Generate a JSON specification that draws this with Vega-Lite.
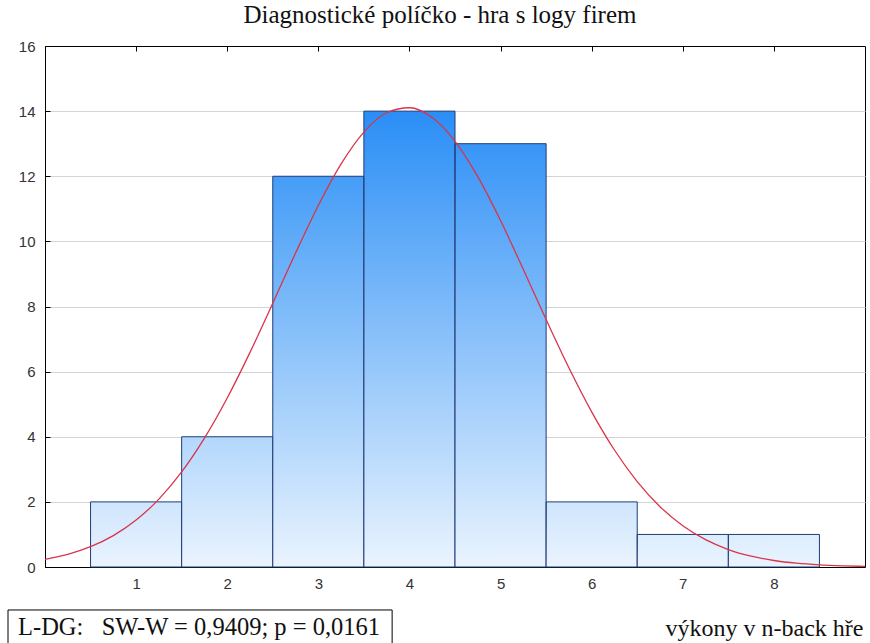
{
  "$schema": "https://vega.github.io/schema/vega-lite/v6.json",
  "autosize": {"type": "none"},
  "width": 820,
  "height": 521,
  "padding": {"left": 45, "top": 46, "right": 5, "bottom": 76},
  "background": "white",
  "title": {
    "text": "Diagnostické políčko - hra s logy firem",
    "font": "Liberation Serif, Times New Roman, serif",
    "fontSize": 25,
    "fontWeight": "normal",
    "color": "#111",
    "baseline": "alphabetic",
    "offset": 16,
    "dy": 25,
    "dx": -15
  },
  "config": {
    "title": {"font": "Liberation Serif, Times New Roman, serif", "fontWeight": "normal"},
    "view": {"stroke": "black", "strokeWidth": 1},
    "axis": {
      "labelFont": "Liberation Sans",
      "labelFontSize": 15,
      "labelColor": "#333",
      "domainColor": "black",
      "tickColor": "black",
      "gridColor": "#d4d4d4"
    }
  },
  "datasets": {
    "bars": [
      {"score": 1, "bin_start": 0.5, "bin_end": 1.5, "count": 2},
      {"score": 2, "bin_start": 1.5, "bin_end": 2.5, "count": 4},
      {"score": 3, "bin_start": 2.5, "bin_end": 3.5, "count": 12},
      {"score": 4, "bin_start": 3.5, "bin_end": 4.5, "count": 14},
      {"score": 5, "bin_start": 4.5, "bin_end": 5.5, "count": 13},
      {"score": 6, "bin_start": 5.5, "bin_end": 6.5, "count": 2},
      {"score": 7, "bin_start": 6.5, "bin_end": 7.5, "count": 1},
      {"score": 8, "bin_start": 7.5, "bin_end": 8.5, "count": 1}
    ],
    "curve": [
      {"x": 0, "y": 0.237}, {"x": 0.25, "y": 0.391}, {"x": 0.5, "y": 0.624}, {"x": 0.75, "y": 0.964},
      {"x": 1, "y": 1.441}, {"x": 1.25, "y": 2.084}, {"x": 1.5, "y": 2.918}, {"x": 1.75, "y": 3.955},
      {"x": 2, "y": 5.19}, {"x": 2.25, "y": 6.591}, {"x": 2.5, "y": 8.102}, {"x": 2.75, "y": 9.64},
      {"x": 3, "y": 11.103}, {"x": 3.25, "y": 12.378}, {"x": 3.5, "y": 13.357}, {"x": 3.75, "y": 13.951},
      {"x": 4, "y": 14.104}, {"x": 4.25, "y": 13.802}, {"x": 4.5, "y": 13.073}, {"x": 4.75, "y": 11.987},
      {"x": 5, "y": 10.639}, {"x": 5.25, "y": 9.139}, {"x": 5.5, "y": 7.598}, {"x": 5.75, "y": 6.117},
      {"x": 6, "y": 4.765}, {"x": 6.25, "y": 3.593}, {"x": 6.5, "y": 2.623}, {"x": 6.75, "y": 1.853},
      {"x": 7, "y": 1.267}, {"x": 7.25, "y": 0.839}, {"x": 7.5, "y": 0.537}, {"x": 7.75, "y": 0.333},
      {"x": 8, "y": 0.2}, {"x": 8.25, "y": 0.116}, {"x": 8.5, "y": 0.065}, {"x": 8.75, "y": 0.036},
      {"x": 9, "y": 0.019}
    ],
    "note": [
      {"label": "L-DG:\u00a0\u00a0\u00a0SW-W = 0,9409; p = 0,0161", "x0": -0.406, "x1": 3.81, "y0": -1.32, "y1": -2.6, "tx": -0.296, "ty": -2.09}
    ]
  },
  "layer": [
    {
      "data": {"name": "bars"},
      "mark": {"type": "bar"},
      "encoding": {
        "x": {
          "field": "bin_start", "type": "quantitative",
          "scale": {"domain": [0, 9], "nice": false, "zero": false},
          "axis": {
            "values": [1, 2, 3, 4, 5, 6, 7, 8],
            "tickSize": -5,
            "labelPadding": 14,
            "grid": false,
            "title": "výkony v n-back hře",
            "titleFont": "Liberation Serif, Times New Roman, serif",
            "titleFontSize": 24,
            "titleFontWeight": "normal",
            "titleColor": "#111",
            "titleAnchor": "end",
            "titleAlign": "right",
            "titleBaseline": "alphabetic",
            "titleY": 68,
            "titleX": 818
          }
        },
        "x2": {"field": "bin_end"},
        "y": {
          "field": "count", "type": "quantitative",
          "scale": {"domain": [0, 16], "nice": false},
          "axis": {
            "values": [0, 2, 4, 6, 8, 10, 12, 14, 16],
            "tickSize": -5,
            "labelPadding": 15,
            "grid": true,
            "title": null
          }
        },
        "y2": {"datum": 0},
        "color": {
          "field": "count", "type": "quantitative",
          "scale": {"domain": [0, 14], "range": ["#eaf4fe", "#2a8ef6"], "interpolate": "rgb"},
          "legend": null
        }
      }
    },
    {
      "data": {"name": "bars"},
      "mark": {
        "type": "bar",
        "stroke": "#1f3c78",
        "strokeWidth": 1,
        "fill": {
          "gradient": "linear", "x1": 0, "y1": 0, "x2": 0, "y2": 1,
          "stops": [
            {"offset": 0, "color": "rgba(234,244,254,0)"},
            {"offset": 1, "color": "rgba(234,244,254,1)"}
          ]
        }
      },
      "encoding": {
        "x": {"field": "bin_start", "type": "quantitative", "axis": null},
        "x2": {"field": "bin_end"},
        "y": {"field": "count", "type": "quantitative"},
        "y2": {"datum": 0}
      }
    },
    {
      "data": {"name": "curve"},
      "mark": {"type": "line", "color": "#d9344a", "strokeWidth": 1.3, "interpolate": "monotone"},
      "encoding": {
        "x": {
          "field": "x", "type": "quantitative",
          "axis": {
            "orient": "top", "values": [1, 2, 3, 4, 5, 6, 7, 8],
            "labels": false, "tickSize": -5, "grid": false, "title": null
          }
        },
        "y": {"field": "y", "type": "quantitative"}
      }
    },
    {
      "data": {"name": "note"},
      "mark": {"type": "rect", "fill": "white", "stroke": "black", "strokeWidth": 1},
      "encoding": {
        "x": {"field": "x0", "type": "quantitative", "axis": null},
        "x2": {"field": "x1"},
        "y": {"field": "y0", "type": "quantitative"},
        "y2": {"field": "y1"}
      }
    },
    {
      "data": {"name": "note"},
      "mark": {"type": "text", "font": "Liberation Serif, Times New Roman, serif", "fontSize": 24.5, "align": "left", "baseline": "alphabetic", "color": "#111"},
      "encoding": {
        "x": {"field": "tx", "type": "quantitative", "axis": null},
        "y": {"field": "ty", "type": "quantitative"},
        "text": {"field": "label"}
      }
    }
  ],
  "resolve": {"axis": {"x": "independent"}}
}
